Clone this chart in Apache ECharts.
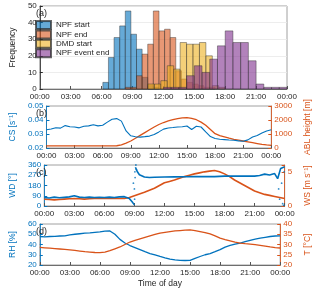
<!DOCTYPE html>
<html><head><meta charset="utf-8">
<script src="https://cdn.jsdelivr.net/npm/echarts@6/dist/echarts.min.js"></script>
<style>html,body{margin:0;padding:0;background:#fff}#c{width:320px;height:289px}</style>
</head><body><div id="c"></div>
<script>
// ---------- DATA ----------
const xTickHours = [0, 3, 6, 9, 12, 15, 18, 21, 24];
const seriesNames = ['NPF start', 'NPF end', 'DMD start', 'NPF event end'];
// histogram bins: first edge (h), bin width (h), counts
const npfStartBin0 = 6.12, npfStartBinW = 0.545;
const npfStartCounts = [4, 19, 31, 38, 47, 33, 24, 7, 2, 1];
const npfEndBin0 = 8.3, npfEndBinW = 0.545;
const npfEndCounts = [1, 1, 8, 21, 27, 47, 35, 36, 31, 11, 6, 4, 3, 2, 1, 1];
const dmdStartBin0 = 10.5, dmdStartBinW = 0.625;
const dmdStartCounts = [3, 3, 5, 14, 12, 28, 27, 27, 28, 20, 2, 1];
const eventEndBin0 = 12.0, eventEndBinW = 0.75;
const eventEndCounts = [1, 1, 1, 8, 14, 10, 18, 26, 35, 28, 28, 17, 3, 1, 1, 1];

const tHalf = [0,0.5,1,1.5,2,2.5,3,3.5,4,4.5,5,5.5,6,6.5,7,7.5,8,8.5,9,9.5,10,10.5,11,11.5,12,12.5,13,13.5,14,14.5,15,15.5,16,16.5,17,17.5,18,18.5,19,19.5,20,20.5,21,21.5,22,22.5,23,23.5,24];
const csVals = [0.0330,0.0336,0.0345,0.0342,0.0360,0.0352,0.0350,0.0344,0.0355,0.0358,0.0366,0.0358,0.0362,0.0385,0.0405,0.0410,0.0392,0.0322,0.0287,0.0280,0.0278,0.0281,0.0285,0.0296,0.0315,0.0335,0.0343,0.0346,0.0350,0.0352,0.0357,0.0332,0.0355,0.0350,0.0315,0.0282,0.0268,0.0263,0.0260,0.0257,0.0255,0.0251,0.0248,0.0258,0.0279,0.0290,0.0307,0.0322,0.0331];
const ablVals = [150,150,150,150,150,150,150,150,150,150,150,150,150,150,150,160,220,350,500,700,900,1100,1300,1500,1680,1820,1930,2020,2100,2150,2170,2120,2020,1850,1620,1320,1020,880,790,700,620,560,500,440,380,320,260,220,190];
const wsVals = [1.0,0.95,0.9,0.95,1.0,1.05,1.1,1.05,1.0,1.05,1.1,1.1,1.1,1.1,1.1,1.1,1.1,1.25,1.5,1.75,2.0,2.3,2.6,3.0,3.4,3.6,3.8,4.05,4.3,4.5,4.7,4.85,5.0,5.1,5.2,5.0,4.7,4.3,3.8,3.4,3.0,2.6,2.2,1.95,1.7,1.55,1.4,1.25,1.1];
const rhVals = [47.8,47.5,47.8,48.0,48.3,48.5,49.4,50.0,50.5,51.0,51.3,51.8,52.3,53.0,53.2,50.0,45.0,41.5,39.0,37.0,35.0,33.0,31.2,29.8,28.3,27.0,25.8,25.0,24.5,24.4,24.5,26.5,28.3,30.0,31.2,33.0,35.0,37.5,39.2,40.3,41.4,42.7,44.0,45.2,46.2,47.0,47.8,48.3,48.5];
const tVals = [28.6,28.4,28.2,28.0,27.8,27.6,27.4,27.1,26.8,26.5,26.3,26.1,26.0,26.3,27.0,27.9,28.8,30.0,31.2,32.0,32.8,33.5,34.2,34.9,35.5,35.9,36.3,36.6,36.8,37.0,37.1,36.8,36.3,35.8,35.2,34.2,33.1,32.4,31.8,31.2,30.7,30.4,30.2,29.9,29.6,29.2,28.8,28.5,28.3];
const wdHours = [0,0.5,1,1.5,2,2.5,3,3.5,4,4.5,5,5.5,6,6.5,7,7.5,8,8.5,8.75,9,9.05,9.1,9.3,9.5,10,10.5,11,12,13,14,15,16,17,18,19,20,21,21.5,22,22.5,23,23.3,23.6,24];
const wdVals = [75,70,78,72,76,80,90,78,75,78,74,76,75,78,75,80,82,65,40,10,null,340,300,275,255,250,252,255,256,257,258,259,258,262,262,262,262,268,280,272,285,240,330,345];
const wdOutHours = [8.9, 9.0, 9.02, 9.05, 9.07, 9.15, 9.2, 23.4, 23.5, 23.7, 23.8, 23.9, 23.95];
const wdOutVals = [200, 150, 60, 300, 250, 360, 320, 150, 60, 200, 20, 5, 300];

// ---------- HELPERS ----------
function pairs(xs, ys){ return xs.map((x,i)=>[x, ys[i]]); }
function bins(b0, bw, counts){ return counts.map((c,i)=>[b0+i*bw, b0+(i+1)*bw, c]); }
const FONT = 'Liberation Sans, Arial, sans-serif';
const BLUE = '#0072BD', ORANGE = '#D95319';
const barFill = ['rgba(0,114,189,0.6)','rgba(217,83,25,0.6)','rgba(237,177,32,0.6)','rgba(126,47,142,0.6)'];
function timeLabel(v){ const h = v % 24; return (h<10?'0':'')+h+':00'; }

const gridsPx = [
  {top: 6, height: 83},
  {top: 106, height: 42},
  {top: 165, height: 41},
  {top: 224, height: 42}
];
const legendTops = [20, 29.4, 38.8, 48.2];
const grid = gridsPx.map(g=>({left: 31, right: 33, top: g.top, height: g.height, show: true, borderColor: '#888', borderWidth: 0.8, backgroundColor: 'transparent'}));

const xAxis = gridsPx.map((g,i)=>({
  type: 'value', gridIndex: i, min: 0, max: 24, interval: 3,
  axisLine: {lineStyle: {color: '#555', width: 0.8}},
  axisTick: {inside: true, length: 3, lineStyle: {color: '#555'}},
  axisLabel: {formatter: timeLabel, fontSize: 8, color: '#262626', fontFamily: FONT, margin: 4},
  splitLine: {show: false},
  name: i===3 ? 'Time of day' : '', nameLocation: 'middle', nameGap: 14,
  nameTextStyle: {fontSize: 8.5, color: '#262626', fontFamily: FONT}
}));

function yAx(gi, min, max, interval, name, color, pos, nameGap, fmt, split){
  return {
    type: 'value', gridIndex: gi, min, max, interval, position: pos,
    name, nameLocation: 'middle', nameGap,
    nameTextStyle: {fontSize: 8.5, color, fontFamily: FONT},
    axisLine: {show: true, lineStyle: {color, width: 0.8}},
    axisTick: {show: true, inside: true, length: 3, lineStyle: {color}},
    axisLabel: {fontSize: 8, color, fontFamily: FONT, margin: 3, formatter: fmt},
    splitLine: {show: !!split, lineStyle: {color: '#e8e8e8', width: 0.8}}
  };
}
const yAxis = [
  yAx(0, 0, 50, 10, 'Frequency', '#262626', 'left', 16, v=>v, true),
  yAx(1, 0.02, 0.05, 0.01, 'CS [s⁻¹]', BLUE, 'left', 23, v=>v.toFixed(2)),
  yAx(1, 0, 3000, 1000, 'ABL height [m]', ORANGE, 'right', 25, v=>v),
  yAx(2, 0, 360, 90, 'WD [°]', BLUE, 'left', 19, v=>v),
  yAx(2, 0, 6, 5, 'WS [m s⁻¹]', ORANGE, 'right', 14, v=> v===6 ? '' : v),
  yAx(3, 20, 60, 10, 'RH [%]', BLUE, 'left', 16, v=>v),
  yAx(3, 20, 40, 5, 'T [°C]', ORANGE, 'right', 16, v=>v)
];

function histSeries(name, data, fill){
  return {
    type: 'custom', name, xAxisIndex: 0, yAxisIndex: 0,
    itemStyle: {color: fill, borderColor: 'rgba(40,40,40,0.7)', borderWidth: 0.6},
    encode: {x: [0,1], y: 2},
    data,
    renderItem: function(params, api){
      const p0 = api.coord([api.value(0), api.value(2)]);
      const p1 = api.coord([api.value(1), 0]);
      return {type: 'rect', shape: {x: p0[0], y: p0[1], width: p1[0]-p0[0], height: p1[1]-p0[1]},
        style: {fill, stroke: 'rgba(40,40,40,0.7)', lineWidth: 0.6}};
    }
  };
}

const series = [
  histSeries(seriesNames[0], bins(npfStartBin0, npfStartBinW, npfStartCounts), barFill[0]),
  histSeries(seriesNames[1], bins(npfEndBin0, npfEndBinW, npfEndCounts), barFill[1]),
  histSeries(seriesNames[2], bins(dmdStartBin0, dmdStartBinW, dmdStartCounts), barFill[2]),
  histSeries(seriesNames[3], bins(eventEndBin0, eventEndBinW, eventEndCounts), barFill[3]),
  {type:'line', xAxisIndex:1, yAxisIndex:2, data: pairs(tHalf, ablVals), showSymbol:false, lineStyle:{color:ORANGE, width:1.3}, itemStyle:{color:ORANGE}},
  {type:'line', xAxisIndex:1, yAxisIndex:1, data: pairs(tHalf, csVals), showSymbol:false, lineStyle:{color:BLUE, width:1.1}, itemStyle:{color:BLUE}},
  {type:'line', xAxisIndex:2, yAxisIndex:4, data: pairs(tHalf, wsVals), showSymbol:false, lineStyle:{color:ORANGE, width:1.6}, itemStyle:{color:ORANGE}},
  {type:'line', xAxisIndex:2, yAxisIndex:3, data: pairs(wdHours, wdVals), showSymbol:false, connectNulls:false, lineStyle:{color:BLUE, width:1.6}, itemStyle:{color:BLUE}},
  {type:'scatter', xAxisIndex:2, yAxisIndex:3, data: pairs(wdOutHours, wdOutVals), symbolSize:1.8, itemStyle:{color:BLUE}},
  {type:'line', xAxisIndex:3, yAxisIndex:5, data: pairs(tHalf, rhVals), showSymbol:false, lineStyle:{color:BLUE, width:1.3}, itemStyle:{color:BLUE}},
  {type:'line', xAxisIndex:3, yAxisIndex:6, data: pairs(tHalf, tVals), showSymbol:false, lineStyle:{color:ORANGE, width:1.3}, itemStyle:{color:ORANGE}}
];

const panelTags = ['(a)','(b)','(c)','(d)'];
const graphic = gridsPx.map((g,i)=>({type:'text', z: 100, left: 36, top: g.top + 3, style:{text: panelTags[i], font: '9px '+FONT, fill:'#262626'}}));

const legend = seriesNames.map((n,i)=>({
  data: [n], orient: 'vertical', left: 35, top: legendTops[i],
  itemWidth: 15, itemHeight: 8, itemGap: 0, icon: 'rect',
  textStyle: {fontSize: 8, color: '#262626', fontFamily: FONT},
  padding: 0
}));

const chart = echarts.init(document.getElementById('c'), null, {renderer: 'canvas'});
chart.setOption({
  animation: false,
  textStyle: {fontFamily: FONT},
  grid, xAxis, yAxis, series, graphic, legend
});
</script></body></html>
